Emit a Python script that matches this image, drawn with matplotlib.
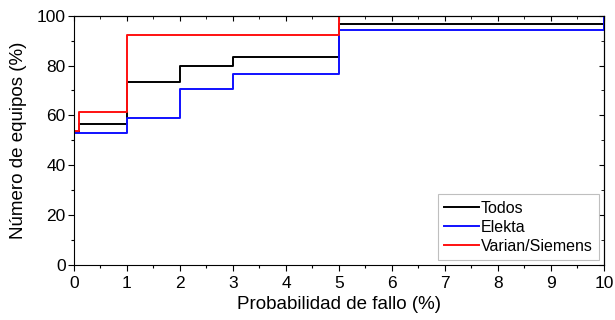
import numpy as np
import matplotlib.pyplot as plt
from matplotlib.ticker import MultipleLocator

plt.rcParams['font.family'] = ['Liberation Sans', 'DejaVu Sans']

# cumulative step data (probabilidad de fallo %, numero de equipos %)
x_todos = [0, 0.1, 1, 2, 3, 5, 10]
y_todos = [53.3, 56.7, 73.3, 80.0, 83.3, 96.7, 96.7]

x_elekta = [0, 1, 2, 3, 5, 10, 10]
y_elekta = [52.9, 58.8, 70.6, 76.5, 94.1, 94.1, 100]

x_varian = [0, 0.1, 1, 5, 10]
y_varian = [53.8, 61.5, 92.3, 100, 100]

fig = plt.figure(figsize=(6.15, 3.2), dpi=100)
ax = fig.add_axes([0.1203, 0.1728, 0.8618, 0.778])

ax.step(x_todos, y_todos, where='post', color='black', lw=1.4, label='Todos')
ax.step(x_elekta, y_elekta, where='post', color='#1010ff', lw=1.4, label='Elekta')
ax.step(x_varian, y_varian, where='post', color='#ff1010', lw=1.4, label='Varian/Siemens')

ax.set_xlim(0, 10)
ax.set_ylim(0, 100)
ax.xaxis.set_major_locator(MultipleLocator(1))
ax.xaxis.set_minor_locator(MultipleLocator(0.5))
ax.yaxis.set_major_locator(MultipleLocator(20))
ax.yaxis.set_minor_locator(MultipleLocator(10))
ax.tick_params(which='major', direction='out', length=4, width=0.8, labelsize=12.5)
ax.tick_params(axis='x', which='major', pad=4)
ax.tick_params(axis='y', which='major', pad=2)
ax.tick_params(which='minor', direction='out', length=2.5, width=0.8)

# ticks on top and right, pointing inward
top = ax.secondary_xaxis('top')
top.xaxis.set_major_locator(MultipleLocator(1))
top.xaxis.set_minor_locator(MultipleLocator(0.5))
top.tick_params(which='major', direction='in', length=3.5, labeltop=False)
top.tick_params(which='minor', direction='in', length=2.5)
right = ax.secondary_yaxis('right')
right.yaxis.set_major_locator(MultipleLocator(20))
right.yaxis.set_minor_locator(MultipleLocator(10))
right.tick_params(which='major', direction='in', length=3.5, labelright=False)
right.tick_params(which='minor', direction='in', length=2.5)

ax.set_xlabel('Probabilidad de fallo (%)', fontsize=13.5, labelpad=4)
ax.set_ylabel('Número de equipos (%)', fontsize=13.5, labelpad=7)

leg = ax.legend(loc='lower right', fontsize=11.5, frameon=True, fancybox=False,
                handlelength=2.2, handletextpad=0.1, borderpad=0.4, labelspacing=0.25,
                borderaxespad=0.3)
leg.get_frame().set_edgecolor('#b0b0b0')
leg.get_frame().set_linewidth(0.8)

fig.savefig('out.png', dpi=100)
